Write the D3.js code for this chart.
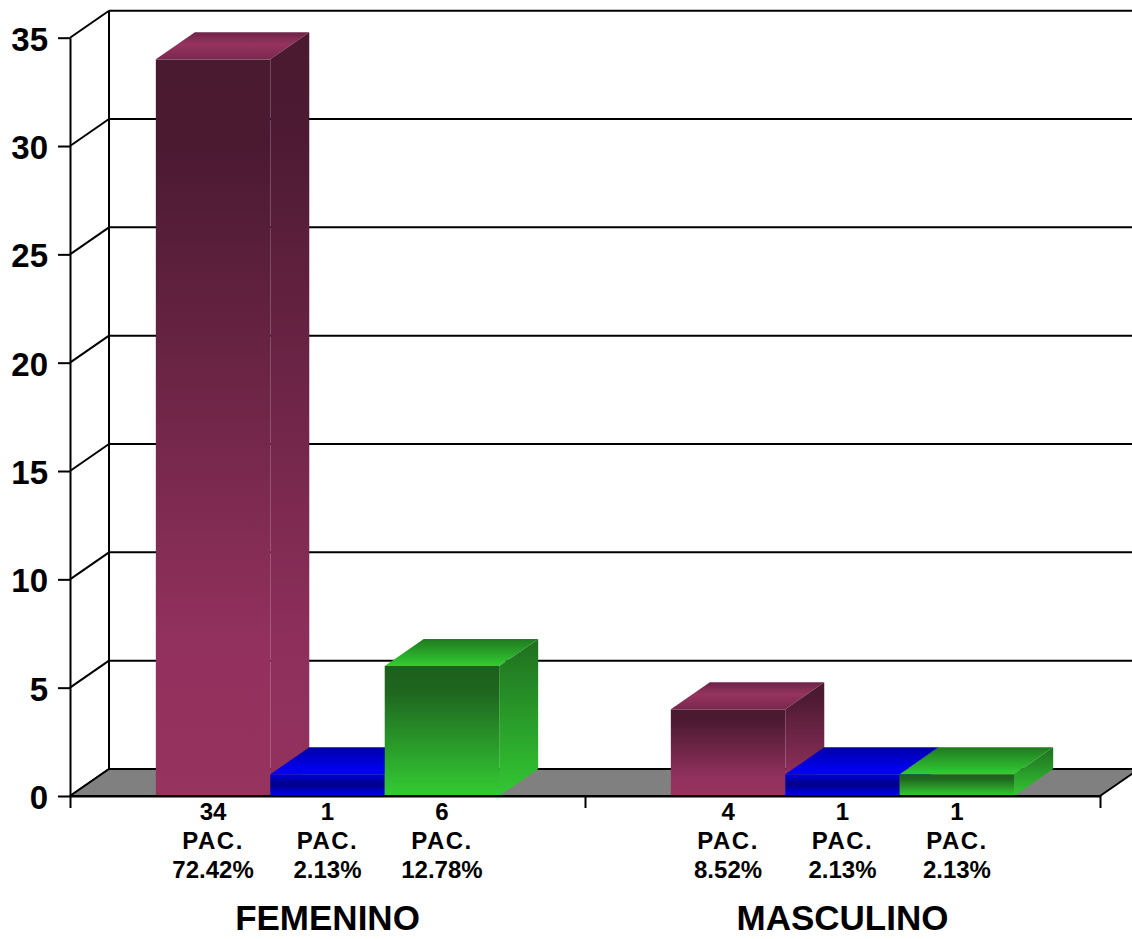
<!DOCTYPE html>
<html>
<head>
<meta charset="utf-8">
<script src="https://cdn.jsdelivr.net/npm/d3@7"></script>
<style>
  html, body { margin: 0; padding: 0; background: #ffffff; }
  svg { display: block; }
  text { font-family: "Liberation Sans", Arial, sans-serif; font-weight: bold; fill: #000; }
</style>
</head>
<body>
<svg id="chart" width="1132" height="939"></svg>
<script>
// Patients by sex, three groups per sex
const categories = ["FEMENINO", "MASCULINO"];
const seriesKeys = ["grupo1", "grupo2", "grupo3"];
const femeninoValues = [34, 1, 6];
const masculinoValues = [4, 1, 1];
const femeninoPercents = ["72.42%", "2.13%", "12.78%"];
const masculinoPercents = ["8.52%", "2.13%", "2.13%"];
const unitLabel = "PAC.";
const yTicks = [0, 5, 10, 15, 20, 25, 30, 35];

const valuesByCategory = [femeninoValues, masculinoValues];
const percentsByCategory = [femeninoPercents, masculinoPercents];

const W = 1132, H = 939;
const left = 70, right = 1100, baseY = 796, topY = 37.7;
const depth = { dx: 39, dy: -27 };   // oblique offset for the 3D depth

const svg = d3.select("#chart");
const defs = svg.append("defs");

const y = d3.scaleLinear().domain([0, 35]).range([baseY, topY]);
const x0 = d3.scaleBand().domain(categories).range([left, right]).padding(0);
const bw = x0.bandwidth();
const x1 = d3.scaleBand().domain(seriesKeys).range([bw / 6, bw * 5 / 6]).padding(0);

// Vertical gradients for each face of each series
function grad(id, stops) {
  const g = defs.append("linearGradient").attr("id", id)
    .attr("x1", 0).attr("y1", 0).attr("x2", 0).attr("y2", 1);
  stops.forEach(s => g.append("stop").attr("offset", s[0]).attr("stop-color", s[1]));
}
grad("g1-front", [[0, "#4a1a30"], [0.12, "#4b1a31"], [0.8, "#93315e"], [1, "#96335f"]]);
grad("g1-side",  [[0, "#4a1a30"], [0.12, "#4c1a32"], [0.8, "#8e2f5b"], [1, "#93325e"]]);
grad("g1-top",   [[0, "#6e2448"], [0.45, "#96335f"], [1, "#7a284f"]]);
grad("g2-front", [[0, "#0000dc"], [0.45, "#000085"], [1, "#0000f4"]]);
grad("g2-side",  [[0, "#0000b0"], [0.5, "#00008c"], [1, "#0000e8"]]);
grad("g2-top",   [[0, "#0000a8"], [1, "#0000ff"]]);
grad("g3-front", [[0, "#1d5f1d"], [0.2, "#1f661f"], [1, "#33cc33"]]);
grad("g3-side",  [[0, "#1f6e1f"], [1, "#33c833"]]);
grad("g3-top",   [[0, "#1f7a1f"], [1, "#33cc33"]]);

// Back wall gridlines
const backLeft = left + depth.dx;
svg.append("g").selectAll("line").data(yTicks.filter(t => t > 0)).join("line")
  .attr("x1", backLeft).attr("x2", W + 10)
  .attr("y1", d => y(d) + depth.dy).attr("y2", d => y(d) + depth.dy)
  .attr("stroke", "#000").attr("stroke-width", 2);

// Back wall left edge
svg.append("line")
  .attr("x1", backLeft).attr("x2", backLeft)
  .attr("y1", y(35) + depth.dy).attr("y2", y(0) + depth.dy)
  .attr("stroke", "#000").attr("stroke-width", 2);

// Side-wall diagonals from each tick to the back wall
svg.append("g").selectAll("line").data(yTicks).join("line")
  .attr("x1", left).attr("y1", d => y(d))
  .attr("x2", backLeft).attr("y2", d => y(d) + depth.dy)
  .attr("stroke", "#000").attr("stroke-width", 2);

// Floor
const floorPts = [
  [left, y(0)], [right, y(0)],
  [right + depth.dx, y(0) + depth.dy], [left + depth.dx, y(0) + depth.dy]
];
svg.append("polygon")
  .attr("points", floorPts.map(p => p.join(",")).join(" "))
  .attr("fill", "#808080").attr("stroke", "#000").attr("stroke-width", 2)
  .attr("stroke-linejoin", "round");

// Bars, drawn left to right so each one covers the neighbour's hidden side
const bars = [];
categories.forEach((c, ci) => {
  seriesKeys.forEach((k, si) => {
    bars.push({ cat: c, key: k, si, value: valuesByCategory[ci][si], pct: percentsByCategory[ci][si] });
  });
});

const barG = svg.append("g");
bars.forEach(b => {
  const xa = x0(b.cat) + x1(b.key);
  const w = x1.bandwidth();
  const yt = y(b.value), yb = y(0);
  const g = barG.append("g");
  const id = "g" + (b.si + 1);
  g.append("rect")
    .attr("x", xa).attr("y", yt).attr("width", w).attr("height", yb - yt)
    .attr("fill", `url(#${id}-front)`);
  g.append("polygon")
    .attr("points", [[xa, yt], [xa + w, yt], [xa + w + depth.dx, yt + depth.dy], [xa + depth.dx, yt + depth.dy]]
      .map(p => p.join(",")).join(" "))
    .attr("fill", `url(#${id}-top)`);
  g.append("polygon")
    .attr("points", [[xa + w, yt], [xa + w + depth.dx, yt + depth.dy], [xa + w + depth.dx, yb + depth.dy], [xa + w, yb]]
      .map(p => p.join(",")).join(" "))
    .attr("fill", `url(#${id}-side)`);
});

// Front floor edge redrawn over the bar bases
svg.append("line")
  .attr("x1", left).attr("x2", right).attr("y1", y(0)).attr("y2", y(0))
  .attr("stroke", "#000").attr("stroke-width", 2);

// Y axis
const yAxis = d3.axisLeft(y).tickValues(yTicks).tickSize(12).tickSizeOuter(0).tickPadding(10);
const yG = svg.append("g").attr("transform", `translate(${left},0)`).call(yAxis);
yG.selectAll("path, line").attr("stroke", "#000").attr("stroke-width", 2);
yG.selectAll("text").style("font-size", "33px").style("font-family", "'Liberation Sans', Arial, sans-serif")
  .style("font-weight", "bold").attr("fill", "#000").attr("dy", "0.38em");

// X axis with ticks at the category boundaries
const xEdge = d3.scaleLinear().domain([0, categories.length]).range([left, right]);
const xAxis = d3.axisBottom(xEdge).tickValues(d3.range(categories.length + 1)).tickFormat("").tickSize(12).tickSizeOuter(0);
const xG = svg.append("g").attr("transform", `translate(0,${baseY})`).call(xAxis);
xG.selectAll("path, line").attr("stroke", "#000").attr("stroke-width", 2);

// Value labels under each bar
const lab = svg.append("g");
bars.forEach(b => {
  const cx = x0(b.cat) + x1(b.key) + x1.bandwidth() / 2;
  const lines = [String(b.value), unitLabel, b.pct];
  const base = [820, 849, 878];
  lines.forEach((t, i) => {
    lab.append("text").attr("x", cx).attr("y", base[i])
      .attr("text-anchor", "middle").style("font-size", "24px")
      .style("letter-spacing", t === unitLabel ? "1.5px" : "0px")
      .text(t);
  });
});

// Category labels
svg.append("g").selectAll("text").data(categories).join("text")
  .attr("x", d => x0(d) + bw / 2).attr("y", 930)
  .attr("text-anchor", "middle").style("font-size", "35px")
  .text(d => d);
</script>
</body>
</html>
